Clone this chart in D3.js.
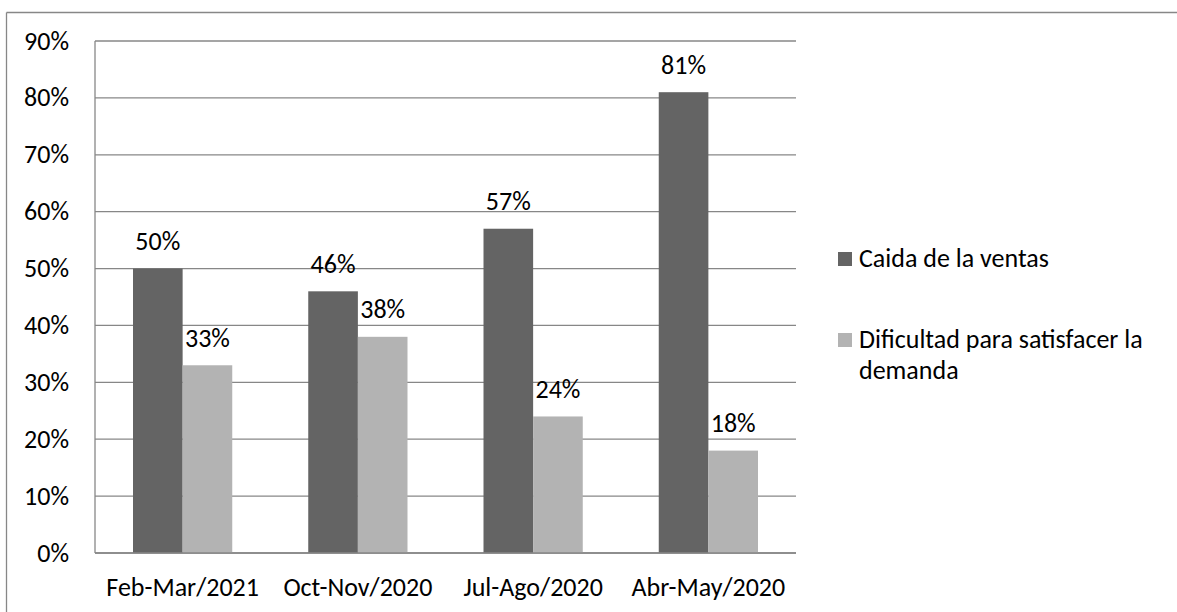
<!DOCTYPE html>
<html>
<head>
<meta charset="utf-8">
<script src="https://cdn.jsdelivr.net/npm/d3@7"></script>
<style>
  html, body { margin: 0; padding: 0; background: #fff; }
  svg { display: block; }
  text { font-family: Carlito, Calibri, Lato, "Noto Sans", sans-serif; fill: #000; }
</style>
</head>
<body>
<svg id="chart" width="1177" height="612"></svg>
<script>
// Survey periods and the share of firms reporting each issue (%)
const categories = ["Feb-Mar/2021", "Oct-Nov/2020", "Jul-Ago/2020", "Abr-May/2020"];
const seriesNames = ["Caida de la ventas", "Dificultad para satisfacer la demanda"];
const caidaVentas = [50, 46, 57, 81];
const dificultadDemanda = [33, 38, 24, 18];
const yTicks = [0, 10, 20, 30, 40, 50, 60, 70, 80, 90];

const colors = ["#646464", "#b3b3b3"];
const gridColor = "#878787";
const fontSize = 26;

const svg = d3.select("#chart");
const W = 1177, H = 612;
const plot = { left: 95, right: 796, top: 41, bottom: 553 };

// Chart-area frame (top and left edges)
svg.append("line").attr("x1", 6.5).attr("x2", W).attr("y1", 12.5).attr("y2", 12.5)
  .attr("stroke", gridColor).attr("stroke-width", 1.3);
svg.append("line").attr("x1", 6.5).attr("x2", 6.5).attr("y1", 12.5).attr("y2", H)
  .attr("stroke", gridColor).attr("stroke-width", 1.3);

const x = d3.scaleBand().domain(categories).range([plot.left, plot.right])
  .paddingInner(76 / 175.25).paddingOuter(38 / 175.25);
const xs = d3.scaleBand().domain(seriesNames).range([0, x.bandwidth()]);
const y = d3.scaleLinear().domain([0, 90]).range([plot.bottom, plot.top]);

// Horizontal gridlines
svg.append("g").selectAll("line").data(yTicks).join("line")
  .attr("x1", plot.left).attr("x2", plot.right)
  .attr("y1", d => y(d)).attr("y2", d => y(d))
  .attr("stroke", gridColor).attr("stroke-width", 1.3);

// Y axis line
svg.append("line").attr("x1", plot.left).attr("x2", plot.left)
  .attr("y1", plot.top).attr("y2", plot.bottom)
  .attr("stroke", gridColor).attr("stroke-width", 1.3);

// Y tick labels
svg.append("g").selectAll("text").data(yTicks).join("text")
  .attr("x", 69).attr("y", d => y(d)).attr("dy", "0.33em")
  .attr("text-anchor", "end").style("font-size", fontSize + "px")
  .text(d => d + "%");

// Bars
const series = [caidaVentas, dificultadDemanda];
const rows = [];
categories.forEach((c, i) => {
  seriesNames.forEach((s, j) => rows.push({ c, s, v: series[j][i], j }));
});

svg.append("g").selectAll("rect").data(rows).join("rect")
  .attr("x", d => x(d.c) + xs(d.s))
  .attr("y", d => y(d.v))
  .attr("width", xs.bandwidth())
  .attr("height", d => y(0) - y(d.v))
  .attr("fill", d => colors[d.j]);

// Value labels above bars
svg.append("g").selectAll("text").data(rows).join("text")
  .attr("x", d => x(d.c) + xs(d.s) + xs.bandwidth() / 2)
  .attr("y", d => y(d.v) - 18.5)
  .attr("text-anchor", "middle").style("font-size", fontSize + "px")
  .text(d => d.v + "%");

// Bottom axis line drawn over the bars
svg.append("line").attr("x1", plot.left).attr("x2", plot.right)
  .attr("y1", y(0)).attr("y2", y(0))
  .attr("stroke", gridColor).attr("stroke-width", 1.3);

// Category labels
svg.append("g").selectAll("text").data(categories).join("text")
  .attr("x", d => x(d) + x.bandwidth() / 2)
  .attr("y", 596)
  .attr("text-anchor", "middle").style("font-size", fontSize + "px")
  .text(d => d);

// Legend
const legend = [
  { lines: ["Caida de la ventas"], top: 252, color: colors[0] },
  { lines: ["Dificultad para satisfacer la", "demanda"], top: 333, color: colors[1] }
];
const lg = svg.append("g").selectAll("g").data(legend).join("g");
lg.append("rect").attr("x", 838).attr("y", d => d.top)
  .attr("width", 14).attr("height", 14).attr("fill", d => d.color);
lg.each(function (d) {
  const t = d3.select(this).append("text").attr("x", 859).attr("y", d.top + 15)
    .style("font-size", fontSize + "px");
  d.lines.forEach((ln, i) => {
    t.append("tspan").attr("x", 859).attr("dy", i === 0 ? 0 : 31).text(ln);
  });
});
</script>
</body>
</html>
